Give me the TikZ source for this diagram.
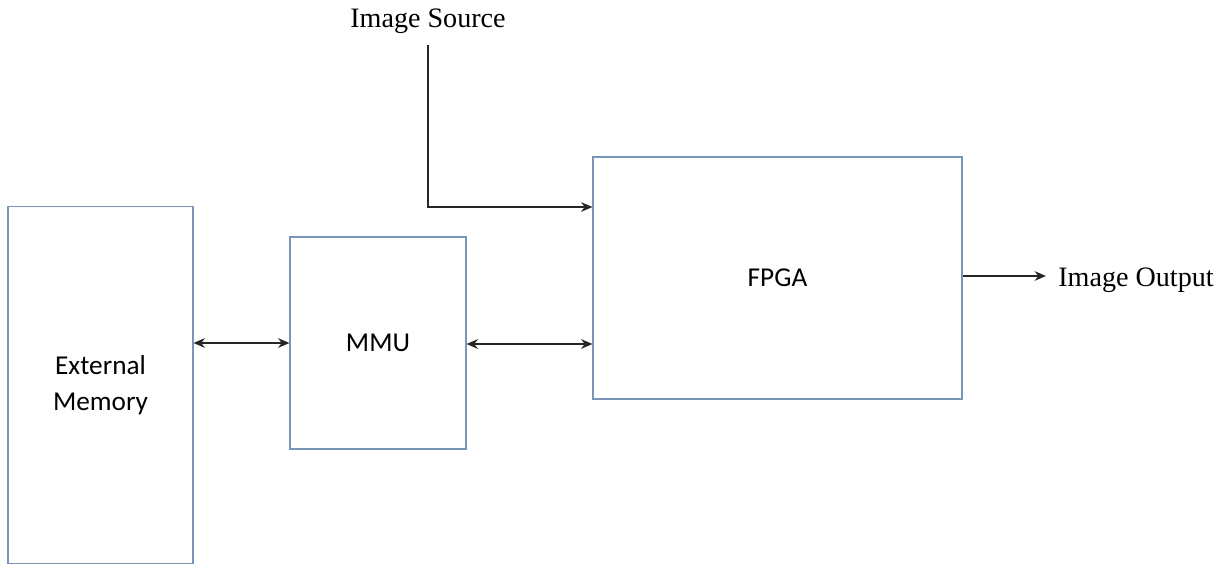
\documentclass[tikz,border=0pt]{standalone}
\usepackage{fontspec}
\setmainfont{Liberation Serif}
\newfontfamily\boxfont{Carlito}
\usetikzlibrary{arrows.meta}
\definecolor{boxline}{RGB}{120,150,185}
\tikzset{
  blk/.style={draw=boxline, line width=0.6pt, inner sep=0pt, font=\boxfont\fontsize{15.5}{20.5}\selectfont, align=center},
  conn/.style={line width=0.8pt, draw=black!85},
  tip/.style={-{Stealth[length=6.5pt,width=5.5pt]}},
  both/.style={{Stealth[length=6.5pt,width=5.5pt]}-{Stealth[length=6.5pt,width=5.5pt]}},
  lbl/.style={font=\fontsize{16}{19}\selectfont, inner sep=0pt}
}
\begin{document}
\begin{tikzpicture}[x=0.02cm, y=-0.02cm]
\useasboundingbox (0,0) rectangle (1225,565);
\node[blk, minimum width=185*0.02cm, minimum height=357*0.02cm] (em) at (100.5,385) {External\\Memory};
\node[blk, minimum width=176*0.02cm, minimum height=212*0.02cm] (mmu) at (378,343) {MMU};
\node[blk, minimum width=369*0.02cm, minimum height=242*0.02cm] (fpga) at (777.5,278) {FPGA};
\node[lbl] (src) at (428,21) {Image Source};
\node[lbl, anchor=west] (out) at (1058,280) {Image Output};
\coordinate (srcTop) at (428,45);
\coordinate (srcCorner) at (428,207);
\coordinate (outEnd) at (1046,276);
\draw[conn, both] (em.east |- 0,343) -- (mmu.west |- 0,343);
\draw[conn, both] (mmu.east |- 0,344) -- (fpga.west |- 0,344);
\draw[conn, tip] (srcTop) -- (srcCorner) -- (fpga.west |- srcCorner);
\draw[conn, tip] (fpga.east |- outEnd) -- (outEnd);
\end{tikzpicture}
\end{document}
